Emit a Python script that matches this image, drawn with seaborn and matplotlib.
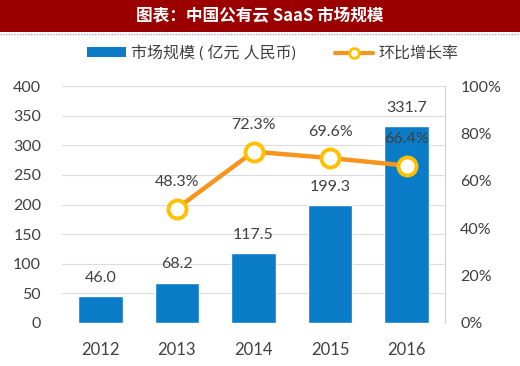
import numpy as np
import pandas as pd
import matplotlib
matplotlib.use('Agg')
import matplotlib.pyplot as plt
from matplotlib.patches import Rectangle
from matplotlib.lines import Line2D
import seaborn as sns

years = ['2012', '2013', '2014', '2015', '2016']
market_size = [46.0, 68.2, 117.5, 199.3, 331.7]
growth = [np.nan, 48.3, 72.3, 69.6, 66.4]

bar_label = '市场规模 ( 亿元 人民币)'
line_label = '环比增长率'
title_text = '图表：中国公有云 SaaS 市场规模'

sns.set_theme(style='white')
plt.rcParams['font.family'] = ['Lato', 'Noto Sans CJK SC', 'DejaVu Sans']
plt.rcParams['axes.unicode_minus'] = False

text_color = '#404040'
bar_color = '#0A7CC8'
line_color = '#F7941D'
marker_edge = '#FFC000'
grid_color = '#DCDCDC'

fig = plt.figure(figsize=(5.2, 3.66), dpi=100)
fig.patch.set_facecolor('white')

# title bar
fig.patches.append(Rectangle((0, 1 - 32 / 366), 1, 32 / 366, transform=fig.transFigure,
                             facecolor='#9A0000', edgecolor='none', zorder=0))
fig.lines.append(Line2D([0, 1], [1 - 33.5 / 366] * 2, transform=fig.transFigure,
                        color='#A8A8D0', lw=1, ls=(0, (1, 1))))
fig.text(0.5, 1 - 16 / 366, title_text, color='white', fontsize=12, fontweight='bold',
         ha='center', va='center', family=['Noto Sans CJK SC', 'DejaVu Sans'])

ax = fig.add_axes([62 / 520, 1 - 323 / 366, (445 - 62) / 520, (323 - 86) / 366])
df = pd.DataFrame({'year': years, 'size': market_size, 'growth': growth})

sns.barplot(data=df, x='year', y='size', color=bar_color, saturation=1,
            width=0.58, ax=ax, zorder=2)
ax.set_ylim(0, 400)
ax.set_xlim(-0.5, len(years) - 0.5)
ax.set_yticks(np.arange(0, 401, 50))
ax.yaxis.grid(True, color=grid_color, lw=0.8, zorder=0)
ax.set_axisbelow(True)
ax.set_xlabel('')
ax.set_ylabel('')
for s in ['top', 'left', 'bottom', 'right']:
    ax.spines[s].set_visible(False)
ax.tick_params(axis='y', length=0, labelsize=11.5, labelcolor=text_color, pad=15)
ax.tick_params(axis='x', length=0, labelsize=12, labelcolor=text_color, pad=14)

for p, v in zip(ax.patches, market_size):
    ax.annotate(f'{v:.1f}', xy=(p.get_x() + p.get_width() / 2, p.get_height()),
                xytext=(0, 8), textcoords='offset points', ha='center', va='bottom',
                fontsize=11.5, color=text_color)

ax2 = ax.twinx()
xpos = np.arange(len(years))
gdf = pd.DataFrame({'x': xpos, 'g': growth}).dropna()
sns.lineplot(data=gdf, x='x', y='g', ax=ax2, color=line_color, lw=3.2,
             marker='o', markersize=13, markerfacecolor='white',
             markeredgecolor=marker_edge, markeredgewidth=2.8, zorder=3)
ax2.set_ylim(0, 100)
ax2.set_yticks(np.arange(0, 101, 20))
ax2.set_yticklabels([f'{t}%' for t in range(0, 101, 20)])
ax2.set_xlim(-0.5, len(years) - 0.5)
ax2.set_ylabel('')
ax2.set_xlabel('')
for s in ['top', 'left', 'bottom']:
    ax2.spines[s].set_visible(False)
ax2.spines['right'].set_color('#D0D0D0')
ax2.spines['right'].set_linewidth(0.8)
ax2.tick_params(axis='y', length=0, labelsize=11.5, labelcolor=text_color, pad=11)

for x, g in zip(gdf['x'], gdf['g']):
    ax2.annotate(f'{g:.1f}%', xy=(x, g), xytext=(0, 14), textcoords='offset points',
                 ha='center', va='bottom', fontsize=11.5, color=text_color, zorder=5)

handles = [Rectangle((0, 0), 1, 1, facecolor=bar_color, edgecolor='none'),
           Line2D([], [], color=line_color, lw=3, marker='o', markersize=7,
                  markerfacecolor='white', markeredgecolor=marker_edge, markeredgewidth=2)]
fig.legend(handles, [bar_label, line_label], loc='center', bbox_to_anchor=(0.525, 1 - 53 / 366),
           ncol=2, frameon=False, fontsize=11.5, handlelength=2.4, handleheight=0.6,
           columnspacing=2.4, handletextpad=0.35, labelcolor=text_color)

fig.savefig('out.png', dpi=100)
